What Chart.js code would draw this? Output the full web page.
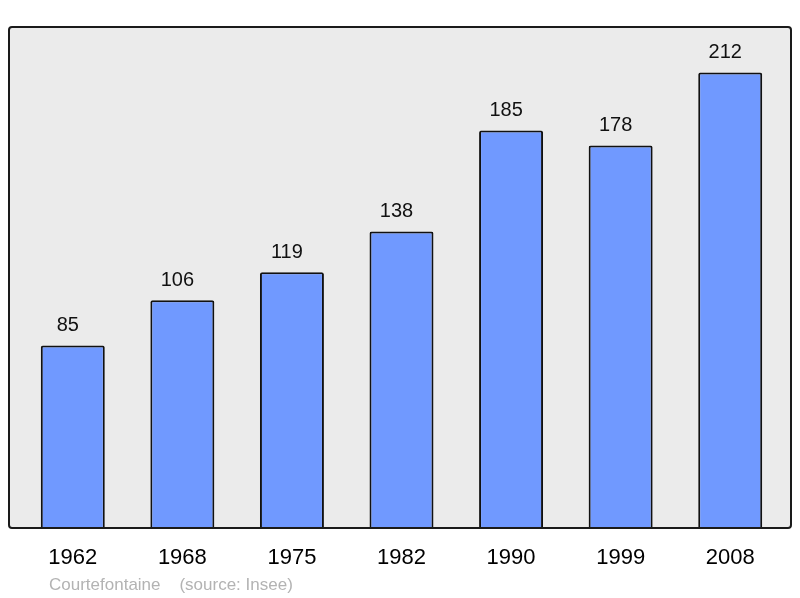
<!DOCTYPE html>
<html>
<head>
<meta charset="utf-8">
<script src="https://cdn.jsdelivr.net/npm/chart.js@4/dist/chart.umd.min.js"></script>
<style>
  html, body { margin: 0; padding: 0; background: #fff; }
  #wrap { width: 800px; height: 598px; }
</style>
</head>
<body>
<div id="wrap"><canvas id="chart" width="800" height="598"></canvas></div>
<script>
"use strict";

// Population by census year.
const years = ["1962", "1968", "1975", "1982", "1990", "1999", "2008"];
const population = [85, 106, 119, 138, 185, 178, 212];
const sourceNote = "Courtefontaine    (source: Insee)";

const FONT = "'Liberation Sans', Arial, sans-serif";

// Grey panel with a dark rounded frame behind the bars.
const framePlugin = {
  id: "frame",
  beforeDatasetsDraw(chart) {
    const { ctx, chartArea: a } = chart;
    ctx.save();
    ctx.beginPath();
    ctx.roundRect(a.left - 9, a.top, a.right - a.left + 15, a.bottom - a.top, 3);
    ctx.fillStyle = "#ebebeb";
    ctx.fill();
    ctx.restore();
  },
  afterDatasetsDraw(chart) {
    const { ctx, chartArea: a } = chart;
    ctx.save();
    ctx.beginPath();
    ctx.roundRect(a.left - 9, a.top, a.right - a.left + 15, a.bottom - a.top, 3);
    ctx.lineWidth = 2;
    ctx.strokeStyle = "#1a1a1a";
    ctx.stroke();

    // value labels above each bar (sit a touch left of centre, as in the original)
    const meta = chart.getDatasetMeta(0);
    ctx.fillStyle = "#111";
    ctx.font = "20px " + FONT;
    ctx.textAlign = "center";
    ctx.textBaseline = "middle";
    meta.data.forEach((bar, i) => {
      ctx.fillText(String(population[i]), bar.x - 5, bar.y - 20);
    });

    // source note
    ctx.fillStyle = "#b3b3b3";
    ctx.font = "17px " + FONT;
    ctx.textAlign = "left";
    ctx.fillText(sourceNote, 49, 585);
    ctx.restore();
  },
};

new Chart(document.getElementById("chart"), {
  type: "bar",
  data: {
    labels: years,
    datasets: [
      {
        data: population,
        backgroundColor: "#7099ff",
        borderColor: "#111",
        borderWidth: 2,
        borderRadius: 2,
        barPercentage: 0.584,
        categoryPercentage: 1,
      },
    ],
  },
  options: {
    responsive: false,
    animation: false,
    layout: { padding: { left: 18, right: 15, top: 27, bottom: 0 } },
    plugins: { legend: { display: false }, tooltip: { enabled: false } },
    scales: {
      x: {
        grid: { display: false, drawTicks: false },
        border: { display: false },
        ticks: { color: "#000", font: { family: FONT, size: 22 }, padding: 17 },
        afterFit(scale) { scale.height = 70; },
      },
      y: {
        display: false,
        min: 0,
        max: 212 * 1.1,
      },
    },
  },
  plugins: [framePlugin],
});
</script>
</body>
</html>
